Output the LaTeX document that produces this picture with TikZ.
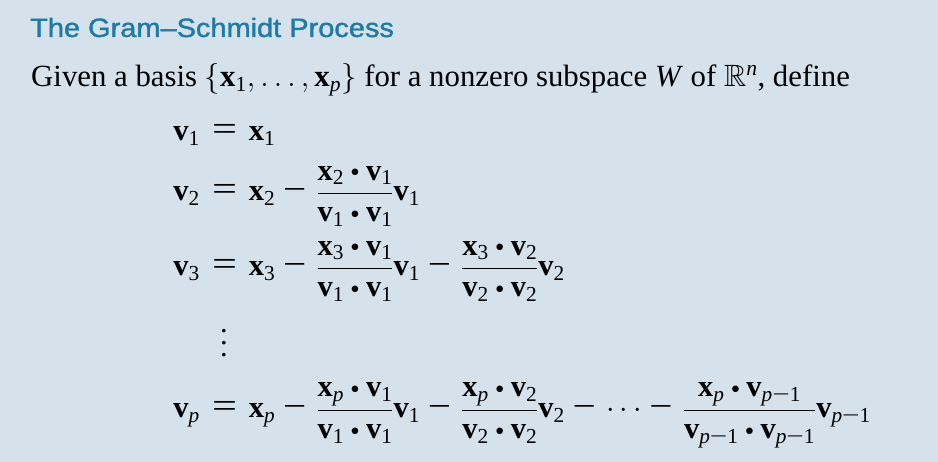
\RequirePackage{fix-cm}
\documentclass[tikz,border=0pt]{standalone}
\usepackage{amsmath,amssymb}
\usepackage[no-math]{fontspec}
\setmainfont{Liberation Serif}
\newfontfamily\titlefont[FakeBold=1.3]{Liberation Sans}
\definecolor{bg}{HTML}{D5E1EB}
\definecolor{ttl}{HTML}{1F7AA5}
\newcommand\bvec[1]{\text{\bfseries #1}}
\newcommand\vv[1]{\bvec{v}_{#1}}
\newcommand\xx[1]{\bvec{x}_{#1}}
\newcommand\one{\text{1}}
\newcommand\two{\text{2}}
\newcommand\three{\text{3}}
\newcommand\pp{\text{\itshape p}}
\newcommand\pmo{\pp\text{\scalebox{1.45}[1]{−}}\one}
\newcommand\dt{\mathbin{\vcenter{\hbox{\scalebox{0.55}{$\bullet$}}}}}
\newcommand\mn{\mskip0.6mu\mathbin{\text{\scalebox{1.35}[1.1]{−}}}\mskip2mu}
\newcommand\eq{\mskip2mu\mathrel{\text{\scalebox{1.45}[1.15]{=}}}\mskip2mu}
\newcommand\mainsize{\fontsize{30.5}{35}\selectfont}
\newcommand\myvdots{\vbox{\baselineskip=11.7pt\lineskiplimit=0pt\hbox{.}\hbox{.}\hbox{.}}}
\begin{document}
\begin{tikzpicture}[x=1pt,y=1pt,
  lhs/.style={anchor=base east,inner sep=0pt,font=\mainsize},
  rhs/.style={anchor=base west,inner sep=0pt,font=\mainsize},
  plain/.style={anchor=base west,inner sep=0pt}]
\fill[bg] (0,0) rectangle (938,462);
\useasboundingbox (0,0) rectangle (938,462);
\node[plain, text=ttl, font=\titlefont\fontsize{26.5}{30}\selectfont] (title) at (30,425) {\scalebox{1.093}[1]{The Gram–Schmidt Process}};
\node[plain, font=\fontsize{30.8}{36}\selectfont] (given) at (31,375) {Given a basis $\{\xx{\one}, \ldots, \xx{\pp}\}$ for a nonzero subspace \textit{W} of $\mathbb{R}^{\text{\itshape n}}$, define};
% row 1
\node[lhs] (l1) at (200,321) {$\vv{\one}$};
\node[rhs] (r1) at (200,321) {$\displaystyle {}\eq \xx{\one}$};
% row 2
\node[lhs] (l2) at (200,261) {$\vv{\two}$};
\node[rhs] (r2) at (200,261) {$\displaystyle {}\eq \xx{\two} \mn \frac{\xx{\two}\dt\vv{\one}}{\vv{\one}\dt\vv{\one}}\vv{\one}$};
% row 3
\node[lhs] (l3) at (200,186) {$\vv{\three}$};
\node[rhs] (r3) at (200,186) {$\displaystyle {}\eq \xx{\three} \mn \frac{\xx{\three}\dt\vv{\one}}{\vv{\one}\dt\vv{\one}}\vv{\one} \mn \frac{\xx{\three}\dt\vv{\two}}{\vv{\two}\dt\vv{\two}}\vv{\two}$};
% vdots
\node[inner sep=0pt, font=\mainsize] (vd) at (224,119) {\myvdots};
% row p
\node[lhs] (lp) at (200,44) {$\vv{\pp}$};
\node[rhs] (rp) at (200,44) {$\displaystyle {}\eq \xx{\pp} \mn \frac{\xx{\pp}\dt\vv{\one}}{\vv{\one}\dt\vv{\one}}\vv{\one} \mn \frac{\xx{\pp}\dt\vv{\two}}{\vv{\two}\dt\vv{\two}}\vv{\two} \mn \cdots \mn \frac{\xx{\pp}\dt\vv{\pmo}}{\vv{\pmo}\dt\vv{\pmo}}\vv{\pmo}$};
\end{tikzpicture}
\end{document}
